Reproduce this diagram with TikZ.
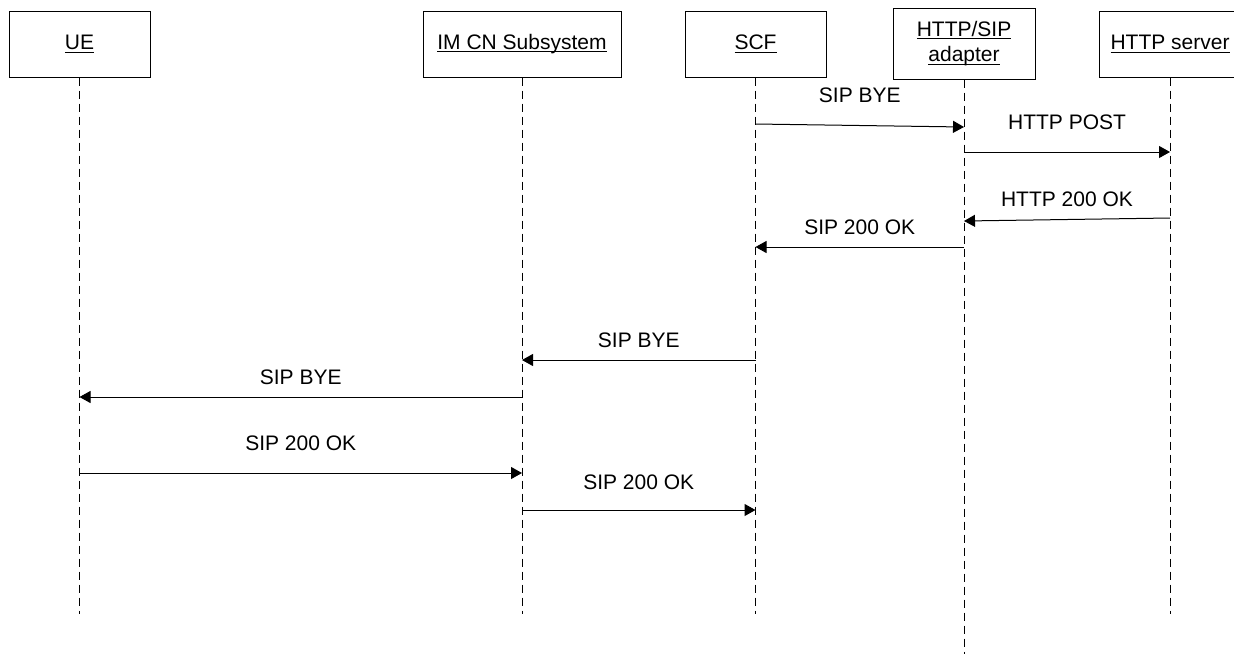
\documentclass[tikz,border=0pt]{standalone}
\usepackage{fontspec}
\setmainfont{Liberation Sans}
\usetikzlibrary{arrows.meta, positioning}

\newcommand{\entname}[1]{\setbox0\hbox{#1}\rlap{\rule[-1.5pt]{\wd0}{0.5pt}}\box0}

\begin{document}
\begin{tikzpicture}[x=0.5pt, y=-0.5pt, >={Triangle[length=5.5pt, width=6pt]},
    every node/.style={font=\fontsize{10.5}{12.5}\selectfont},
    entity/.style={draw, line width=0.5pt, minimum width=70.5pt, minimum height=33pt, align=center, inner sep=1pt},
    life/.style={line width=0.5pt, dash pattern=on 4pt off 2.5pt},
    msg/.style={->, line width=0.5pt},
    lbl/.style={inner sep=0pt}]
    \useasboundingbox (0,0) rectangle (1234,654);

    % Các thực thể
    \node[entity] (ue) at (79.5,44) {\entname{UE}};
    \node[entity, minimum width=99pt] (ims) at (522,44) {\entname{IM CN Subsystem}};
    \node[entity] (scf) at (755.5,44) {\entname{SCF}};
    \node[entity, minimum width=71pt, minimum height=35.5pt] (adp) at (964,43.5) {\entname{HTTP/SIP}\\[0.3pt]\entname{adapter}};
    \node[entity] (srv) at (1170,44) {\entname{HTTP server}};

    % Đường đời
    \foreach \n in {ue,ims,scf,srv} {
        \draw[life] (\n.south) -- (\n |- 0,614);
    }
    \draw[life] (adp.south) -- (adp |- 0,654);

    % Các bản tin
    \draw[msg] (scf |- 0,124) -- (adp |- 0,127) node[lbl, midway, above=11pt] {SIP BYE};
    \draw[msg] (adp |- 0,152) -- (srv |- 0,152) node[lbl, midway, above=11pt] {HTTP POST};
    \draw[msg] (srv |- 0,218) -- (adp |- 0,221) node[lbl, midway, above=6pt] {HTTP 200 OK};
    \draw[msg] (adp |- 0,247) -- (scf |- 0,247) node[lbl, midway, above=6pt] {SIP 200 OK};
    \draw[msg] (scf |- 0,360) -- (ims |- 0,360) node[lbl, midway, above=6pt] {SIP BYE};
    \draw[msg] (ims |- 0,397) -- (ue |- 0,397) node[lbl, midway, above=6pt] {SIP BYE};
    \draw[msg] (ue |- 0,473) -- (ims |- 0,473) node[lbl, midway, above=11pt] {SIP 200 OK};
    \draw[msg] (ims |- 0,510) -- (scf |- 0,510) node[lbl, midway, above=10pt] {SIP 200 OK};

\end{tikzpicture}
\end{document}
